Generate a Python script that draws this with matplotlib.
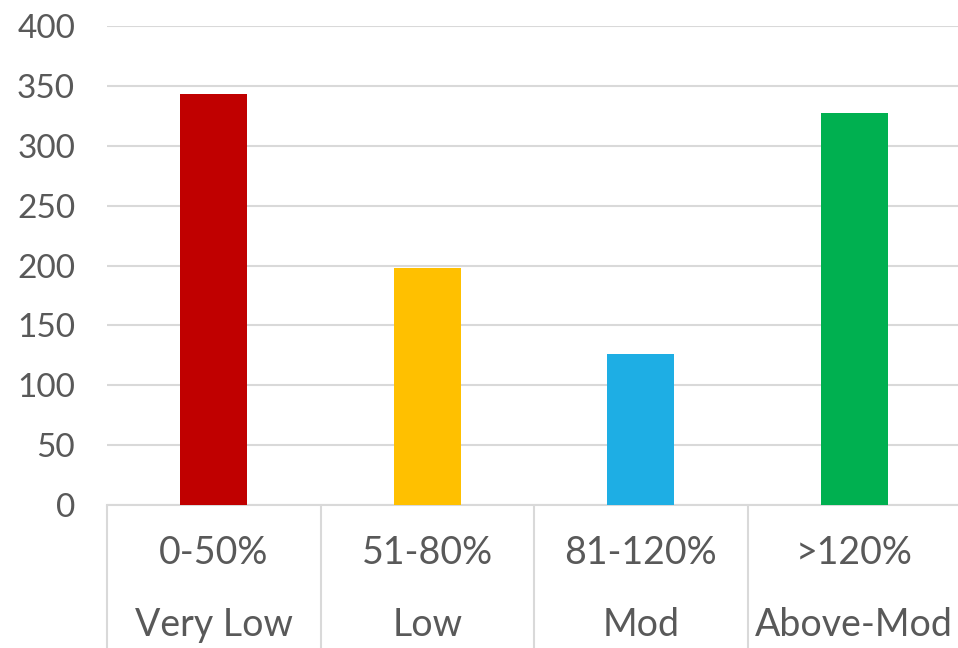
import matplotlib.pyplot as plt
import matplotlib.transforms as mtransforms

ranges = ["0-50%", "51-80%", "81-120%", ">120%"]
levels = ["Very Low", "Low", "Mod", "Above-Mod"]
counts = [343, 198, 126, 327]
colors = ["#C00000", "#FFC000", "#1EAEE4", "#00B050"]
y_ticks = [0, 50, 100, 150, 200, 250, 300, 350, 400]

TEXT = "#595959"
GRID = "#D9D9D9"

plt.rcParams["font.family"] = ["Lato", "DejaVu Sans"]

fig = plt.figure(figsize=(9.58, 6.48), dpi=100)
ax = fig.add_axes([107 / 958, 143 / 648, 854 / 958, 479 / 648])

x = list(range(len(counts)))
ax.bar(x, counts, width=0.314, color=colors, zorder=3)

ax.set_xlim(-0.5, len(counts) - 0.5)
ax.set_ylim(0, 400)
ax.set_yticks(y_ticks)
ax.set_yticklabels([str(v) for v in y_ticks])
ax.tick_params(axis="y", length=0, pad=23, labelsize=24, labelcolor=TEXT)
ax.yaxis.grid(True, color=GRID, linewidth=1.5, zorder=0)

for side in ["left", "right", "top"]:
    ax.spines[side].set_visible(False)
ax.spines["bottom"].set_color(GRID)
ax.spines["bottom"].set_linewidth(1.5)

# category separators below the axis
ax.set_xticks([i - 0.5 for i in range(len(counts) + 1)])
ax.set_xticklabels([])
ax.tick_params(axis="x", length=105, width=1.5, color=GRID, direction="out")

trans = mtransforms.blended_transform_factory(ax.transData, fig.transFigure)
for i in x:
    ax.text(i, 1 - 553 / 648, ranges[i], transform=trans, ha="center",
            va="center", fontsize=27, color=TEXT)
    ax.text(i, 1 - 625 / 648, levels[i], transform=trans, ha="center",
            va="center", fontsize=27, color=TEXT)

fig.savefig("out.png", dpi=100)
